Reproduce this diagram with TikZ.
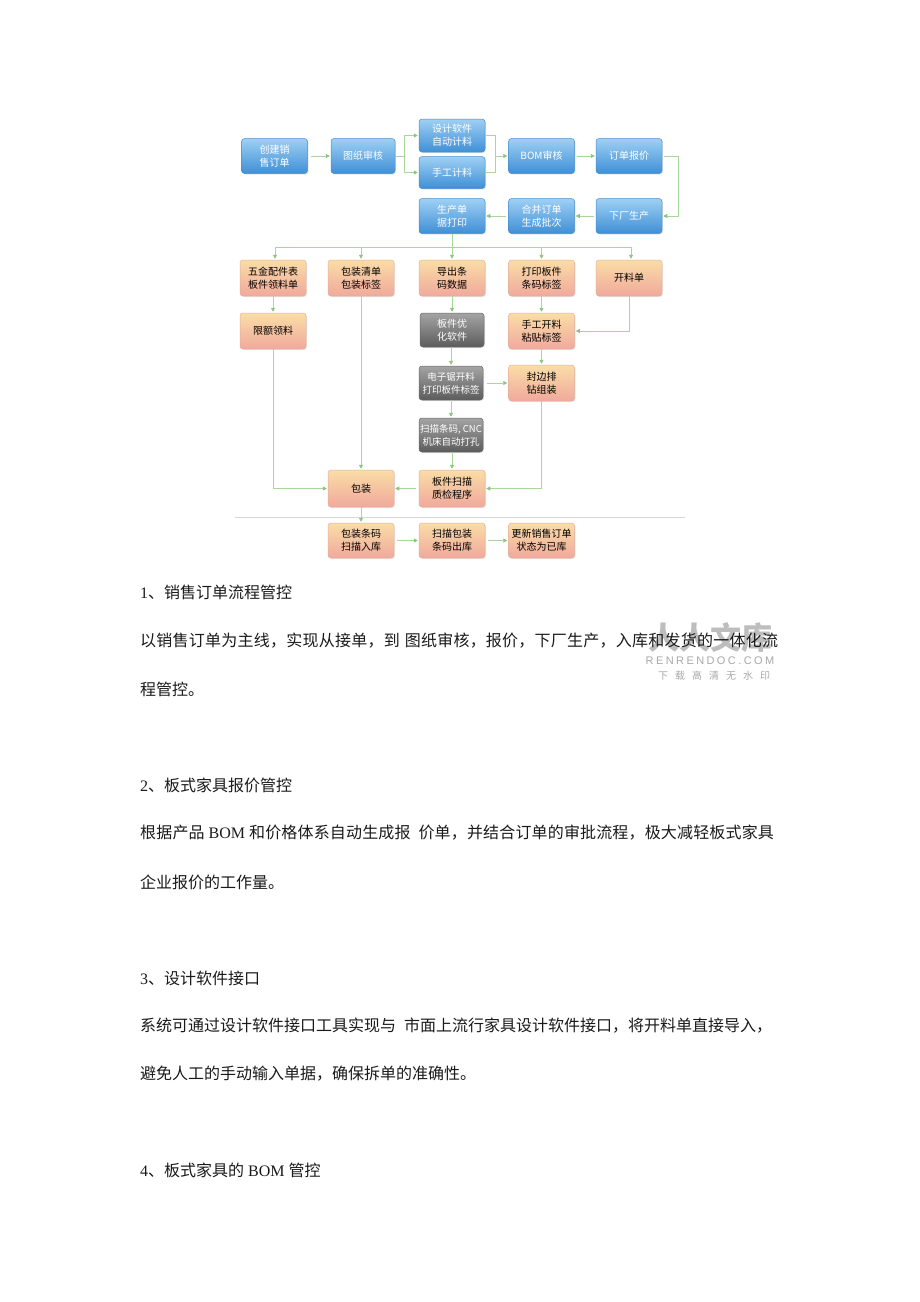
\documentclass[tikz,border=0pt]{standalone}
\usepackage{fontspec}
\setmainfont{Liberation Serif}
\newfontfamily\cjk{Noto Sans CJK SC}
\usetikzlibrary{arrows.meta,shadows}
\definecolor{bluetop}{HTML}{9ED0F4}
\definecolor{bluebot}{HTML}{3F8FD6}
\definecolor{bluebd}{HTML}{4A8ECC}
\definecolor{ortop}{HTML}{FADDA6}
\definecolor{orbot}{HTML}{F0A99C}
\definecolor{orbd}{HTML}{E3B09E}
\definecolor{graytop}{HTML}{A4A4A4}
\definecolor{graybot}{HTML}{5C5C5C}
\definecolor{graybd}{HTML}{6A6A6A}
\definecolor{lineg}{HTML}{A8D69C}
\definecolor{tipg}{HTML}{8CC67B}
\definecolor{sepg}{HTML}{D8D8D8}
\definecolor{wmark}{HTML}{A8A8A8}
\definecolor{txt}{HTML}{1A1A1A}
\begin{document}
\begin{tikzpicture}[x=1pt,y=-1pt,
  box/.style={rounded corners=3pt, minimum width=66pt, minimum height=35pt,
    inner sep=1pt, align=center, line width=0.5pt,
    font=\cjk\fontsize{10}{13}\selectfont,
    drop shadow={opacity=0.18, shadow xshift=1pt, shadow yshift=-1pt}},
  bluebox/.style={box, draw=bluebd, top color=bluetop, bottom color=bluebot, text=white},
  orbox/.style={box, draw=orbd, top color=ortop, bottom color=orbot, text=black},
  graybox/.style={box, draw=graybd, top color=graytop, bottom color=graybot, text=white},
  conn/.style={draw=lineg, line width=0.7pt},
  arr/.style={conn, -{Triangle[length=4pt,width=4pt,color=tipg]}, shorten >=1pt},
  para/.style={anchor=west, inner sep=0pt, text=txt, font=\fontsize{16}{16}\selectfont},
  wm/.style={inner sep=0pt, text=wmark}
]
\fill[white] (0,0) rectangle (920,1302);
\useasboundingbox (0,0) rectangle (920,1302);

% ---------- row 1 ----------
\node[bluebox] (a1) at (274.5,156) {创建销\\售订单};
\node[bluebox, minimum width=64pt] (a2) at (363,156) {图纸审核};
\node[bluebox, minimum height=33pt] (a3) at (452,135.5) {设计软件\\自动计料};
\node[bluebox, minimum height=32pt] (a4) at (452,172.5) {手工计料};
\node[bluebox] (a5) at (541.5,156) {BOM审核};
\node[bluebox] (a6) at (629,156) {订单报价};
% ---------- row 2 ----------
\node[bluebox] (b1) at (452,216) {生产单\\据打印};
\node[bluebox] (b2) at (541.5,216) {合并订单\\生成批次};
\node[bluebox] (b3) at (629,216) {下厂生产};
% ---------- row 3 ----------
\node[orbox, minimum height=36pt] (c1) at (273,278) {五金配件表\\板件领料单};
\node[orbox, minimum height=36pt] (c2) at (361,278) {包装清单\\包装标签};
\node[orbox, minimum height=36pt] (c3) at (452,278) {导出条\\码数据};
\node[orbox, minimum height=36pt] (c4) at (541.5,278) {打印板件\\条码标签};
\node[orbox, minimum height=36pt] (c5) at (629,278) {开料单};
% ---------- row 4 ----------
\node[orbox, minimum height=36pt] (d1) at (273,331) {限额领料};
\node[graybox, minimum width=64pt, minimum height=34pt] (d3) at (452,330) {板件优\\化软件};
\node[orbox, minimum height=36pt] (d4) at (541.5,331) {手工开料\\粘贴标签};
% ---------- row 5 ----------
\node[graybox, minimum width=64pt, minimum height=34pt, font=\cjk\fontsize{9.5}{13}\selectfont] (e3) at (451,383) {电子锯开料\\打印板件标签};
\node[orbox, minimum height=36pt] (e4) at (541.5,383) {封边排\\钻组装};
% ---------- row 6 ----------
\node[graybox, minimum width=64pt, minimum height=34pt, font=\cjk\fontsize{9.5}{13}\selectfont] (f3) at (451,435) {扫描条码, CNC\\机床自动打孔};
% ---------- row 7 ----------
\node[orbox, minimum height=37pt] (g2) at (361,488.5) {包装};
\node[orbox, minimum height=37pt] (g3) at (452,488.5) {板件扫描\\质检程序};
% ---------- row 8 ----------
\node[orbox] (h2) at (361,540.5) {包装条码\\扫描入库};
\node[orbox] (h3) at (452,540.5) {扫描包装\\条码出库};
\node[orbox] (h4) at (541.5,540.5) {更新销售订单\\状态为已库};

% ---------- connectors ----------
\draw[arr, shorten <=3pt] (a1) -- (a2);
\coordinate (s1) at (404,156);
\draw[conn] (a2) -- (s1);
\draw[arr] (s1) |- (a3);
\draw[arr] (s1) |- (a4);
\coordinate (m1) at (495,156);
\draw[conn] (a3) -| (m1);
\draw[conn] (a4) -| (m1);
\draw[arr] (m1) -- (a5);
\draw[arr, shorten <=2pt] (a5) -- (a6);
\coordinate (r1) at (678,156);
\draw[arr, shorten <=2pt] (a6) -- (r1) |- (b3);
\draw[arr, shorten <=2pt] (b3) -- (b2);
\draw[arr, shorten <=2pt] (b2) -- (b1);

\coordinate (bus) at (452,247);
\draw[conn] (b1) -- (bus);
\draw[conn] (275,247) -- (631,247);
\draw[arr] (275,247) -- (c1.north -| 275,0);
\draw[arr] (c2 |- bus) -- (c2);
\draw[arr] (c3 |- bus) -- (c3);
\draw[arr] (c4 |- bus) -- (c4);
\draw[arr] (631,247) -- (c5.north -| 631,0);

\draw[arr] (c1) -- (d1);
\draw[arr] (c3) -- (d3);
\draw[arr] (d3) -- (e3 |- d3.south) -- (e3);
\draw[arr] (e3) -- (f3);
\draw[arr] (f3) -- (g3 |- f3.south) -- (g3);
\draw[arr] (c4) -- (d4);
\draw[arr] (d4) -- (e4);
\draw[arr] (c5) |- (d4);
\draw[arr, shorten <=4pt] (e3) -- (e4);
\draw[arr] (e4) |- (g3);
\draw[arr, shorten <=3pt] (g3) -- (g2);
\draw[arr] (d1) |- (g2);
\draw[arr] (c2) -- (g2);
\draw[sepg, line width=0.8pt] (235,517) -- (685,517);
\draw[arr] (g2) -- (h2);
\draw[arr, shorten <=3pt] (h2) -- (h3);
\draw[arr, shorten <=3pt] (h3) -- (h4);

% ---------- watermark ----------
\node[wm, font=\cjk\bfseries\fontsize{31}{31}\selectfont, opacity=0.75] (w1) at (710,638) {人人文库};
\node[wm, font=\fontspec{Liberation Sans}\addfontfeature{LetterSpace=22}\fontsize{11}{11}\selectfont] (w2) at (710,661) {RENRENDOC.COM};
\node[wm, font=\cjk\addfontfeature{LetterSpace=70}\fontsize{10}{10}\selectfont] (w3) at (714,676) {下载高清无水印};

% ---------- text ----------
\node[para] (t1) at (140,592) {1{\cjk 、销售订单流程管控}};
\node[para] (t2) at (140,641) {\cjk\addfontfeature{LetterSpace=1.5} 以销售订单为主线，实现从接单，到\hspace{5pt}图纸审核，报价，下厂生产，入库和发货的一体化流};
\node[para] (t3) at (140,689) {\cjk 程管控。};
\node[para] (t4) at (140,785) {2{\cjk 、板式家具报价管控}};
\node[para] (t5) at (140,833) {{\cjk\addfontfeature{LetterSpace=1} 根据产品} BOM {\cjk\addfontfeature{LetterSpace=1} 和价格体系自动生成报}\hspace{8pt}{\cjk\addfontfeature{LetterSpace=1} 价单，并结合订单的审批流程，极大减轻板式家具}};
\node[para] (t6) at (140,882) {\cjk 企业报价的工作量。};
\node[para] (t7) at (140,978) {3{\cjk 、设计软件接口}};
\node[para] (t8) at (140,1026) {\cjk 系统可通过设计软件接口工具实现与\hspace{8pt}市面上流行家具设计软件接口，将开料单直接导入，};
\node[para] (t9) at (140,1074) {\cjk 避免人工的手动输入单据，确保拆单的准确性。};
\node[para] (t10) at (140,1170) {4{\cjk 、板式家具的} BOM {\cjk 管控}};
\end{tikzpicture}
\end{document}
